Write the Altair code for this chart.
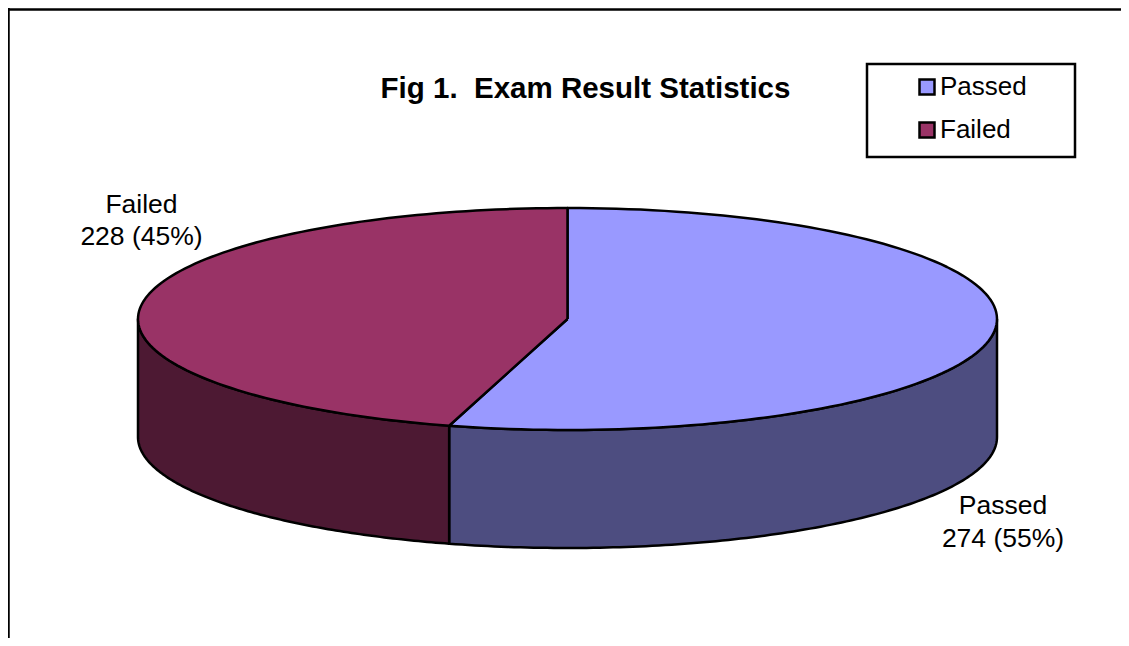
import math
import altair as alt
import pandas as pd

categories = ["Passed", "Failed"]
counts = [274, 228]
percents = ["55%", "45%"]
top_colors = ["#9999FF", "#993366"]
side_colors = ["#4D4D80", "#4D1933"]
title_text = "Fig 1.\u00a0 Exam Result Statistics"

FONT = "Liberation Sans"
W, H = 1113, 630
CX, CY, RX, RY, DEPTH = 559.5, 311, 429.5, 111, 118
VIEW_TILT = math.radians(-0.5)

total = sum(counts)
start_passed = 0.0
split = 2 * math.pi * counts[0] / total + VIEW_TILT
end_failed = 2 * math.pi


def pt(t, drop=0.0):
    return CX + RX * math.sin(t), CY - RY * math.cos(t) + drop


def arc(a, b, drop=0.0, n=120):
    return [pt(a + (b - a) * i / n, drop) for i in range(n + 1)]


def rows(points, name):
    return [{"x": p[0], "y": p[1], "o": i, "name": name} for i, p in enumerate(points)]


top_rows = []
top_rows += rows([(CX, CY)] + arc(start_passed, split) + [(CX, CY)], "Passed")
top_rows += rows([(CX, CY)] + arc(split, end_failed) + [(CX, CY)], "Failed")

side_rows = []
a = arc(math.pi / 2, split)
side_rows += rows(a + arc(math.pi / 2, split, DEPTH)[::-1] + [a[0]], "Passed")
b = arc(split, 3 * math.pi / 2)
side_rows += rows(b + arc(split, 3 * math.pi / 2, DEPTH)[::-1] + [b[0]], "Failed")

x_enc = alt.X("x:Q", scale=alt.Scale(domain=[0, W], nice=False, zero=False), axis=None)
y_enc = alt.Y("y:Q", scale=alt.Scale(domain=[H, 0], nice=False, zero=False), axis=None)

sides = (
    alt.Chart(pd.DataFrame(side_rows))
    .mark_line(stroke="black", strokeWidth=2.5, strokeJoin="round")
    .encode(
        x=x_enc,
        y=y_enc,
        order="o:Q",
        fill=alt.Fill("name:N", scale=alt.Scale(domain=categories, range=side_colors), legend=None),
    )
)

tops = (
    alt.Chart(pd.DataFrame(top_rows))
    .mark_line(stroke="black", strokeWidth=2.5, strokeJoin="round")
    .encode(
        x=x_enc,
        y=y_enc,
        order="o:Q",
        fill=alt.Fill(
            "name:N",
            scale=alt.Scale(domain=categories, range=top_colors),
            legend=alt.Legend(
                title=None,
                orient="none",
                legendX=906,
                legendY=66,
                symbolType="square",
                symbolSize=225,
                symbolStrokeColor="black",
                symbolStrokeWidth=2.5,
                symbolOpacity=1,
                labelFont=FONT,
                labelFontSize=26,
                labelColor="black",
                labelOffset=0,
                rowPadding=17,
                padding=0,
            ),
        ),
    )
)

labels = pd.DataFrame(
    {
        "x": [995, 995, 133.5, 133.5],
        "y": [498, 531, 197, 229],
        "t": [
            categories[0],
            f"{counts[0]} ({percents[0]})",
            categories[1],
            f"{counts[1]} ({percents[1]})",
        ],
    }
)
label_layer = (
    alt.Chart(labels)
    .mark_text(font=FONT, fontSize=26.5, color="black", align="center", baseline="middle")
    .encode(x=x_enc, y=y_enc, text="t:N")
)

title_layer = (
    alt.Chart(pd.DataFrame({"x": [577.5], "y": [81], "t": [title_text]}))
    .mark_text(font=FONT, fontSize=29.5, fontWeight="bold", color="black", align="center", baseline="middle")
    .encode(x=x_enc, y=y_enc, text="t:N")
)

legend_box = (
    alt.Chart(pd.DataFrame({"x": [859], "x2": [1067], "y": [56], "y2": [149]}))
    .mark_rect(fill="white", stroke="black", strokeWidth=2.5)
    .encode(x=x_enc, x2="x2:Q", y=y_enc, y2="y2:Q")
)

frame_top = (
    alt.Chart(pd.DataFrame({"x": [0], "x2": [W], "y": [1.5]}))
    .mark_rule(color="black", strokeWidth=2.5)
    .encode(x=x_enc, x2="x2:Q", y=y_enc)
)
frame_left = (
    alt.Chart(pd.DataFrame({"x": [0.5], "y": [0], "y2": [H]}))
    .mark_rule(color="black", strokeWidth=2.5)
    .encode(x=x_enc, y=y_enc, y2="y2:Q")
)

chart = (
    alt.layer(frame_top, frame_left, sides, tops, legend_box, label_layer, title_layer)
    .resolve_scale(fill="independent")
    .properties(
        width=W,
        height=H,
        padding=0,
        background="white",
        autosize=alt.AutoSizeParams(type="none", contains="content"),
    )
    .configure_view(stroke=None)
)

chart.save("out.html", embed_options={"renderer": "svg", "actions": False})
